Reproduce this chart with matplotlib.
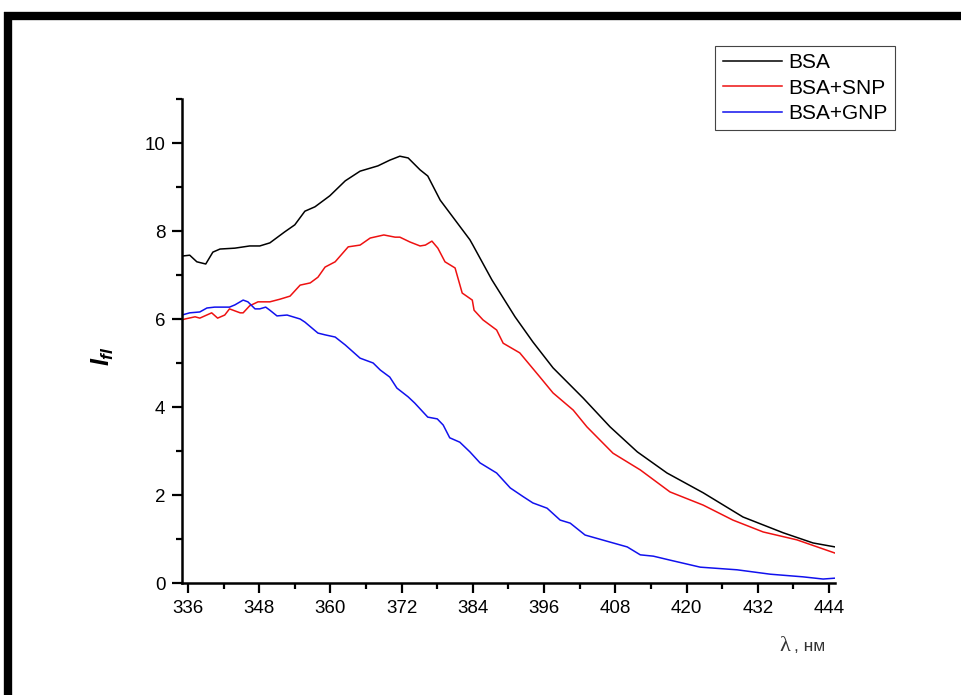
"""
Fluorescence spectra of BSA alone and with silver / gold nanoparticles.
Intensity I_fl vs wavelength (nm), values read off the published figure.
"""

import matplotlib
matplotlib.use("Agg")
import matplotlib.pyplot as plt
from matplotlib.lines import Line2D
from matplotlib.ticker import MultipleLocator


# ── data ──────────────────────────────────────────────────────────────────────
wl_bsa = [335.0, 336.3, 337.5, 339.0, 340.2, 341.4, 343.9, 346.4, 348.1, 349.8,
          352.3, 354.0, 355.7, 357.4, 359.9, 362.5, 365.0, 368.0, 370.0, 371.7,
          373.1, 375.1, 376.4, 378.5, 381.0, 383.5, 384.0, 387.2, 391.1, 394.1,
          397.5, 402.6, 407.1, 411.7, 416.7, 422.8, 429.5, 436.3, 441.3, 445.0]
i_bsa = [7.43, 7.45, 7.30, 7.25, 7.52, 7.59, 7.61, 7.66, 7.66, 7.73,
         7.98, 8.14, 8.45, 8.55, 8.80, 9.14, 9.36, 9.48, 9.61, 9.70,
         9.66, 9.39, 9.25, 8.70, 8.25, 7.80, 7.68, 6.89, 6.05, 5.48,
         4.89, 4.20, 3.55, 2.98, 2.50, 2.05, 1.50, 1.14, 0.91, 0.82]

wl_snp = [335.0, 335.5, 337.2, 338.0, 340.0, 341.0, 342.2, 343.0, 344.8, 345.3,
          346.4, 347.8, 349.8, 351.5, 353.2, 354.9, 356.6, 357.9, 359.1, 360.8,
          363.0, 365.0, 366.7, 369.0, 370.9, 371.7, 373.4, 375.1, 376.0, 377.1,
          378.1, 379.3, 381.0, 382.2, 383.9, 384.2, 385.7, 388.0, 389.1, 391.9,
          395.3, 397.5, 400.9, 403.2, 407.6, 412.2, 417.2, 422.8, 427.8, 432.9,
          438.6, 445.0]
i_snp = [5.98, 6.00, 6.05, 6.02, 6.14, 6.02, 6.09, 6.23, 6.14, 6.14,
         6.30, 6.39, 6.39, 6.45, 6.52, 6.77, 6.82, 6.95, 7.18, 7.30,
         7.64, 7.68, 7.84, 7.91, 7.86, 7.86, 7.75, 7.66, 7.68, 7.77,
         7.61, 7.30, 7.16, 6.59, 6.43, 6.20, 5.98, 5.75, 5.45, 5.23,
         4.68, 4.32, 3.93, 3.55, 2.95, 2.57, 2.07, 1.77, 1.43, 1.16,
         0.98, 0.68]

wl_gnp = [335.0, 336.3, 338.0, 339.2, 340.5, 343.0, 343.9, 345.3, 346.1, 347.3,
          348.1, 349.1, 349.8, 351.0, 352.7, 354.9, 355.7, 357.9, 359.1, 360.8,
          362.5, 365.0, 367.2, 368.4, 370.0, 371.2, 373.1, 374.2, 376.4, 378.0,
          379.0, 380.1, 381.8, 383.5, 385.2, 388.0, 390.3, 392.5, 394.1, 396.5,
          398.7, 400.4, 402.9, 407.1, 410.0, 412.2, 414.4, 417.2, 422.3, 428.5,
          434.1, 439.6, 443.0, 445.0]
i_gnp = [6.09, 6.14, 6.16, 6.25, 6.27, 6.27, 6.32, 6.43, 6.39, 6.23,
         6.23, 6.27, 6.20, 6.07, 6.09, 6.00, 5.93, 5.68, 5.64, 5.59,
         5.41, 5.11, 5.00, 4.84, 4.68, 4.43, 4.23, 4.09, 3.77, 3.73,
         3.59, 3.30, 3.20, 2.98, 2.73, 2.50, 2.16, 1.96, 1.82, 1.70,
         1.43, 1.36, 1.09, 0.93, 0.82, 0.64, 0.61, 0.52, 0.36, 0.30,
         0.20, 0.14, 0.09, 0.11]

SERIES = [("BSA", wl_bsa, i_bsa, "black"),
          ("BSA+SNP", wl_snp, i_snp, "#ee1111"),
          ("BSA+GNP", wl_gnp, i_gnp, "#1111ee")]

X_TICKS = [336, 348, 360, 372, 384, 396, 408, 420, 432, 444]
Y_TICKS = [0, 2, 4, 6, 8, 10]


# ── style ─────────────────────────────────────────────────────────────────────
plt.rcParams["font.family"] = ["Liberation Sans", "DejaVu Sans"]
plt.rcParams["mathtext.fontset"] = "custom"
plt.rcParams["mathtext.it"] = "Liberation Sans:italic:bold"
plt.rcParams["mathtext.rm"] = "Liberation Sans"

fig = plt.figure(figsize=(9.61, 6.95), dpi=100)
ax = fig.add_axes([182 / 961, 1 - 583 / 695, (835 - 182) / 961, (583 - 99) / 695])

for name, x, y, c in SERIES:
    ax.plot(x, y, color=c, lw=1.1, label=name)

ax.set_xlim(335, 445)
ax.set_ylim(0, 11)
ax.set_xticks(X_TICKS)
ax.set_yticks(Y_TICKS)
ax.xaxis.set_minor_locator(MultipleLocator(6))
ax.yaxis.set_minor_locator(MultipleLocator(1))
ax.tick_params(which="major", direction="out", length=7, width=1.6,
               labelsize=13.5, pad=5)
ax.tick_params(which="minor", direction="out", length=4, width=1.6)
for s in ("top", "right"):
    ax.spines[s].set_visible(False)
for s in ("left", "bottom"):
    ax.spines[s].set_linewidth(1.8)

fig.text(103 / 961, 1 - 356 / 695, r"$\mathit{I}_{\mathit{fl}}$", fontsize=18,
         rotation=90, ha="center", va="center")
fig.text(790 / 961, 1 - 651 / 695, "λ", fontsize=16, family="Liberation Serif",
         ha="right", va="baseline", color="#333333")
fig.text(794 / 961, 1 - 651 / 695, ", нм", fontsize=12.5, ha="left",
         va="baseline", color="#333333")

leg = ax.legend(loc="upper right", bbox_to_anchor=(895 / 961, 1 - 46 / 695),
                bbox_transform=fig.transFigure, fontsize=15, fancybox=False,
                framealpha=1, edgecolor="#444444", borderpad=0.35,
                labelspacing=0.3, handlelength=2.85, handletextpad=0.3,
                borderaxespad=0)
leg.get_frame().set_linewidth(0.8)

# thick frame along the top and left of the picture
fig.add_artist(Line2D([8 / 961, 8 / 961], [0, 1 - 12 / 695], color="black",
                      lw=6, solid_capstyle="butt", transform=fig.transFigure))
fig.add_artist(Line2D([4 / 961, 1], [1 - 16 / 695, 1 - 16 / 695], color="black",
                      lw=6, solid_capstyle="butt", transform=fig.transFigure))

fig.savefig("out.png", dpi=100)
